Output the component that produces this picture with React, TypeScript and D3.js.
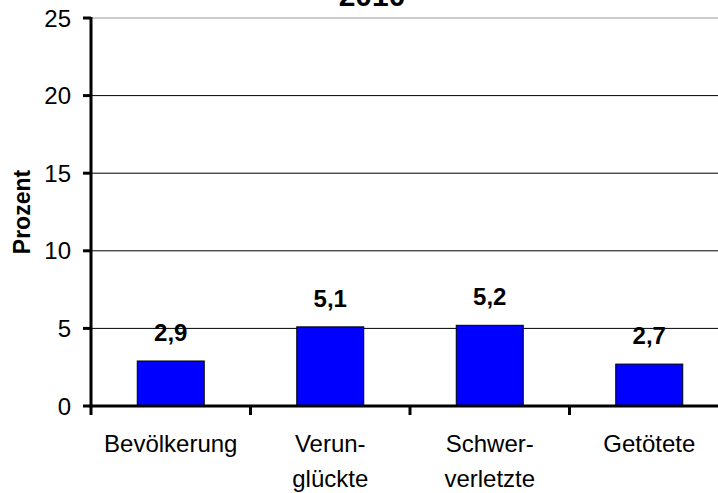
import React from "react";
import * as d3 from "d3";

const title = "2010";
const categories = ["Bevölkerung", "Verun-\nglückte", "Schwer-\nverletzte", "Getötete"];
const values = [2.9, 5.1, 5.2, 2.7];
const valueLabels = ["2,9", "5,1", "5,2", "2,7"];
const yTicks = [0, 5, 10, 15, 20, 25];
const yLabel = "Prozent";

export default function App() {
  const W = 718, H = 493;
  const left = 91, right = 729, top = 18, bottom = 406;
  const x = d3.scaleBand<string>().domain(categories).range([left, right]).paddingInner(0).paddingOuter(0);
  const y = d3.scaleLinear().domain([0, 25]).range([bottom, top]);
  const bw = x.bandwidth() * 0.42;
  const font = "'Liberation Sans', Arial, sans-serif";
  return (
    <svg width={W} height={H} style={{ position: "absolute", left: 0, top: 0 }} fontFamily={font}>
      <rect width={W} height={H} fill="#fff" />
      <text x={372} y={6} textAnchor="middle" fontSize={30} fontWeight="bold">{title}</text>
      {yTicks.filter(t => t > 0).map(t => (
        <line key={t} x1={left} x2={W} y1={y(t)} y2={y(t)} stroke={t === 25 ? "#999" : "#000"} strokeWidth={1} />
      ))}
      {categories.map((c, i) => {
        const cx = x(c)! + x.bandwidth() / 2;
        return (
          <g key={c}>
            <rect x={cx - bw / 2} y={y(values[i])} width={bw} height={y(0) - y(values[i])} fill="#0000ff" stroke="#000" strokeWidth={1} />
            <text x={cx} y={y(values[i]) - 20} textAnchor="middle" fontSize={24} fontWeight="bold">{valueLabels[i]}</text>
            {c.split("\n").map((ln, j) => (
              <text key={j} x={cx} y={452 + j * 35} textAnchor="middle" fontSize={24}>{ln}</text>
            ))}
          </g>
        );
      })}
      <line x1={left} x2={left} y1={top - 1} y2={bottom + 1.5} stroke="#000" strokeWidth={3} />
      <line x1={left - 1.5} x2={W} y1={bottom} y2={bottom} stroke="#000" strokeWidth={3} />
      {yTicks.map(t => (
        <g key={t}>
          <line x1={left - 8} x2={left} y1={y(t)} y2={y(t)} stroke="#000" strokeWidth={3} />
          <text x={71} y={y(t) + 8.5} textAnchor="end" fontSize={24}>{t}</text>
        </g>
      ))}
      {categories.map((c, i) => (
        <line key={c} x1={x(c)!} x2={x(c)!} y1={bottom} y2={bottom + 9} stroke="#000" strokeWidth={3} />
      ))}
      <text transform={`translate(30,212) rotate(-90)`} textAnchor="middle" fontSize={23} fontWeight="bold">{yLabel}</text>
    </svg>
  );
}
